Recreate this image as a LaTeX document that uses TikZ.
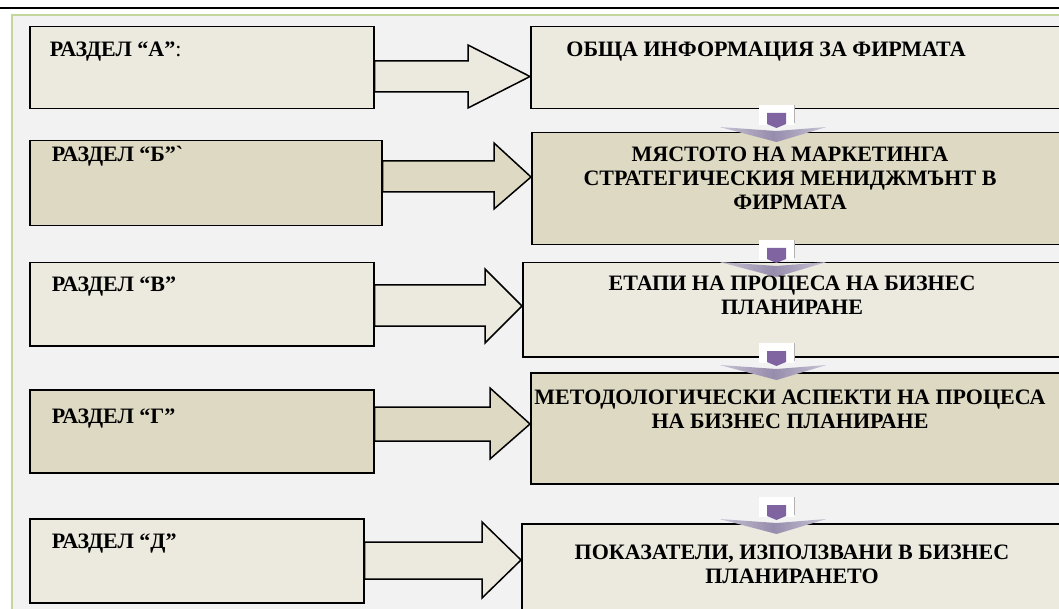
\documentclass[tikz,border=0pt]{standalone}
\usepackage{fontspec}
\setmainfont{Liberation Serif}
\usepackage{xcolor}
\definecolor{boxlight}{RGB}{236,233,223}
\definecolor{boxdark}{RGB}{221,217,195}
\definecolor{pagebg}{RGB}{242,242,242}
\definecolor{frameg}{RGB}{195,214,155}
\definecolor{purplebox}{RGB}{128,100,162}
\definecolor{chevmid}{RGB}{150,140,172}
\definecolor{chevside}{RGB}{200,196,212}

\begin{document}
\begin{tikzpicture}[x=1pt,y=-1pt,line width=1.5pt,
  box/.style={rectangle,draw,anchor=north west,inner sep=0pt},
  lightbox/.style={box,fill=boxlight},
  darkbox/.style={box,fill=boxdark},
  lbl/.style={font=\fontsize{22}{24}\selectfont\bfseries,inner sep=0pt,align=center},
  barrow/.style={draw,line join=miter},
  chev/.pic={
    \fill[white] (-18,-8) rectangle (17,12);
    \draw[gray!60,line width=1pt] (17.5,-8) -- (17.5,10);
    \fill[purplebox] (-9.5,0) -- (9.5,0) -- (9.5,11) -- (0,15) -- (-9.5,11) -- cycle;
    \shade[left color=chevside,right color=chevside,middle color=chevmid]
      (-57,14) -- (0,18) -- (50,14) -- (0,29) -- cycle;
  }]
\clip (0,0) rectangle (1059,609);
\fill[white] (0,0) rectangle (1059,609);
\draw[line width=2pt] (0,8) -- (1059,8);
\fill[pagebg] (12,15) rectangle (1070,620);
\draw[frameg,line width=2pt] (12,620) -- (12,15) -- (1070,15);

% left column
\node[lightbox,minimum width=344,minimum height=82] (ra) at (29,26) {};
\node[darkbox,minimum width=352,minimum height=85] (rb) at (29,140) {};
\node[lightbox,minimum width=344,minimum height=83] (rv) at (29,262) {};
\node[darkbox,minimum width=344,minimum height=83] (rg) at (29,389) {};
\node[lightbox,minimum width=334,minimum height=84] (rd) at (29,518) {};

% right column
\node[lightbox,minimum width=540,minimum height=82] (oa) at (530,26) {};
\node[darkbox,minimum width=540,minimum height=112] (ob) at (531,132) {};
\node[lightbox,minimum width=548,minimum height=94] (ov) at (522,262) {};
\node[darkbox,minimum width=540,minimum height=111] (og) at (530,372) {};
\node[lightbox,minimum width=550,minimum height=100] (od) at (521,523) {};

% block arrows
\draw[barrow,fill=boxlight] (ra.east |- 0,61) -- (468,61) -- (468,45) -- (oa.west |- 0,76.5)
  -- (468,108) -- (468,92) -- (ra.east |- 0,92) -- cycle;
\draw[barrow,fill=boxdark] (rb.east |- 0,161) -- (494,161) -- (494,143) -- (ob.west |- 0,177)
  -- (494,209) -- (494,192) -- (rb.east |- 0,192) -- cycle;
\draw[barrow,fill=boxlight] (rv.east |- 0,285) -- (485,285) -- (485,269) -- (ov.west |- 0,306)
  -- (485,343) -- (485,326) -- (rv.east |- 0,326) -- cycle;
\draw[barrow,fill=boxdark] (rg.east |- 0,407) -- (490,407) -- (490,388) -- (og.west |- 0,424)
  -- (490,459) -- (490,441) -- (rg.east |- 0,441) -- cycle;
\draw[barrow,fill=boxlight] (rd.east |- 0,542) -- (482,542) -- (482,522) -- (od.west |- 0,560)
  -- (482,598) -- (482,579) -- (rd.east |- 0,579) -- cycle;

% links between the right boxes
\pic at (776.5,113) {chev};
\pic at (776.5,248) {chev};
\pic at (776.5,351) {chev};
\pic at (776.5,505) {chev};

% texts
\node[lbl,anchor=base west] (ta) at (49,57) {РАЗДЕЛ “А”\mdseries:};
\node[lbl,anchor=base west] (tb) at (51,162) {РАЗДЕЛ “Б”\textasciigrave};
\node[lbl,anchor=base west] (tv) at (51,292) {РАЗДЕЛ “В”};
\node[lbl,anchor=base west] (tg) at (51,423) {РАЗДЕЛ “Г”};
\node[lbl,anchor=base west] (td) at (51,548) {РАЗДЕЛ “Д”};

\node[lbl] (sa) at (766,52) {ОБЩА ИНФОРМАЦИЯ ЗА ФИРМАТА};
\node[lbl] (sb) at (790,178) {МЯСТОТО НА МАРКЕТИНГА\\СТРАТЕГИЧЕСКИЯ МЕНИДЖМЪНТ В\\ФИРМАТА};
\node[lbl] (sv) at (792,295) {ЕТАПИ НА ПРОЦЕСА НА БИЗНЕС\\ПЛАНИРАНЕ};
\node[lbl] (sg) at (790,409) {МЕТОДОЛОГИЧЕСКИ АСПЕКТИ НА ПРОЦЕСА\\НА БИЗНЕС ПЛАНИРАНЕ};
\node[lbl] (sd) at (792,564) {ПОКАЗАТЕЛИ, ИЗПОЛЗВАНИ В БИЗНЕС\\ПЛАНИРАНЕТО};
\end{tikzpicture}
\end{document}
